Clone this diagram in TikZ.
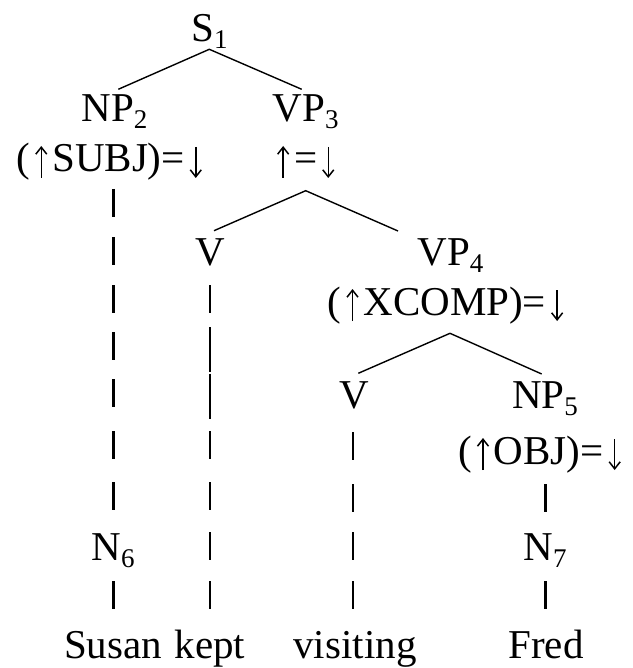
\documentclass[tikz,border=0pt]{standalone}
\usepackage{fontspec}
\setmainfont{Liberation Serif}
\usetikzlibrary{arrows.meta}
\newcommand{\lsub}[1]{\raisebox{-7pt}{\fontsize{27}{27}\selectfont #1}}
\newcommand{\uarr}{\tikz[x=1pt,y=1pt,baseline=0pt]{\useasboundingbox (0,-6) rectangle (22,26);
  \draw[line width=1.5pt,-{Straight Barb[length=7pt,width=11pt]}] (11,-6) -- (11,26);}}
\newcommand{\darr}{\tikz[x=1pt,y=1pt,baseline=0pt]{\useasboundingbox (0,-6) rectangle (22,26);
  \draw[line width=1.5pt,-{Straight Barb[length=7pt,width=11pt]}] (11,25) -- (11,-6);}}
\begin{document}
\begin{tikzpicture}[x=1pt,y=-1pt,
  lab/.style={font=\fontsize{41}{48}\selectfont, inner sep=0pt, anchor=base},
  branch/.style={line width=1.4pt},
  bar/.style={line width=2.6pt},
  thinbar/.style={line width=1.6pt}]
\useasboundingbox (0,0) rectangle (632,668);
% labels
\node[lab] (S1) at (209.5,42) {S\lsub{1}};
\node[lab] (NP2) at (114.5,122) {NP\lsub{2}};
\node[lab] (VP3) at (305.7,122) {VP\lsub{3}};
\node[lab] (subj) at (111.7,172) {(\uarr SUBJ)=\darr};
\node[lab] (eq3) at (305.7,172) {\uarr=\darr};
\node[lab] (V1) at (210,265) {V};
\node[lab] (VP4) at (450.5,265) {VP\lsub{4}};
\node[lab] (xcomp) at (448,315) {(\uarr XCOMP)=\darr};
\node[lab] (V2) at (354,408) {V};
\node[lab] (NP5) at (545,408) {NP\lsub{5}};
\node[lab] (obj) at (542,464) {(\uarr OBJ)=\darr};
\node[lab] (N6) at (113,560) {N\lsub{6}};
\node[lab] (N7) at (545,560) {N\lsub{7}};
\node[lab] (w1) at (113,658) {Susan};
\node[lab] (w2) at (210,658) {kept};
\node[lab] (w3) at (355,658) {visiting};
\node[lab] (w4) at (546,658) {Fred};
% branch points
\coordinate (a1) at (209.3,49.3);
\coordinate (a1l) at (118.3,89.3);
\coordinate (a1r) at (301.7,89.3);
\coordinate (a3) at (305.7,190.7);
\coordinate (a3l) at (214,230.7);
\coordinate (a3r) at (398,231);
\coordinate (a4) at (450,333.3);
\coordinate (a4l) at (358.3,373.3);
\coordinate (a4r) at (541.7,374);
\draw[branch] (a1l) -- (a1) -- (a1r);
\draw[branch] (a3l) -- (a3) -- (a3r);
\draw[branch] (a4l) -- (a4) -- (a4r);
% projection bars
\foreach \t in {189,237,285,332,379,431,482,581}
  \draw[bar] (113.7,\t) -- (113.7,\t+28);
\foreach \t in {285,431,482,532,581}
  \draw[bar] (210,\t) -- (210,\t+28);
\draw[thinbar] (210,327) -- (210,372);
\draw[thinbar] (210,373.5) -- (210,419);
\foreach \t in {432,484,532,581}
  \draw[bar] (353,\t) -- (353,\t+28);
\foreach \t in {484,581}
  \draw[bar] (545.5,\t) -- (545.5,\t+28);
\end{tikzpicture}
\end{document}
